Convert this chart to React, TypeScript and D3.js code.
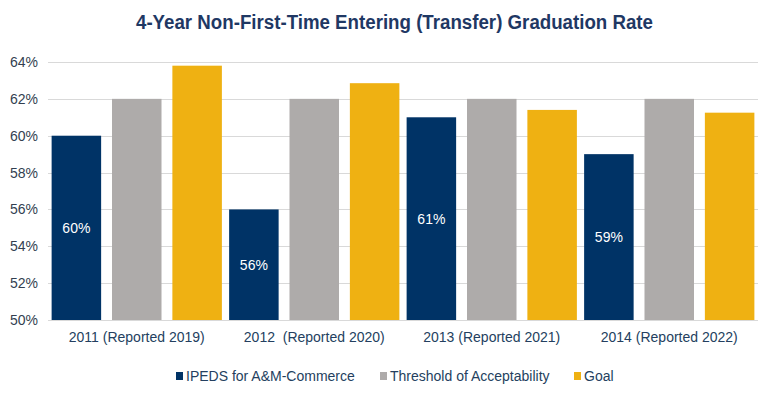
import React from "react";
import * as d3 from "d3";

const categories = ["2011 (Reported 2019)", "2012  (Reported 2020)", "2013 (Reported 2021)", "2014 (Reported 2022)"];
const seriesNames = ["IPEDS for A&M-Commerce", "Threshold of Acceptability", "Goal"];
const ipeds = [60, 56, 61, 59];
const threshold = [62, 62, 62, 62];
const goal = [63.8, 62.85, 61.4, 61.25];
const yTicks = [50, 52, 54, 56, 58, 60, 62, 64];
const colors = ["#003366", "#AEABAA", "#EFB112"];

const W = 783;
const H = 399;
const plotLeft = 48;
const plotRight = 758;
const plotTop = 62;
const plotBottom = 320;
const FONT = "'Liberation Sans', Arial, sans-serif";

export default function App() {
  const series = [ipeds, threshold, goal];
  const x0 = d3.scaleBand<string>().domain(categories).range([plotLeft, plotRight]).paddingInner(0).paddingOuter(0);
  const x1 = d3.scaleBand<number>().domain([0, 1, 2]).range([0, x0.bandwidth()]).paddingInner(0.18).paddingOuter(0.06);
  const y = d3.scaleLinear().domain([50, 64]).range([plotBottom, plotTop]);

  const legendItems = [
    { x: 176, label: seriesNames[0], color: colors[0] },
    { x: 380, label: seriesNames[1], color: colors[1] },
    { x: 574, label: seriesNames[2], color: colors[2] },
  ];

  return (
    <svg width={W} height={H} style={{ position: "absolute", left: 0, top: 0, background: "#fff" }} fontFamily={FONT}>
      <rect x={0} y={0} width={W} height={H} fill="#fff" />
      <text
        x={394.5}
        y={29}
        textAnchor="middle"
        fontSize={20}
        fontWeight="bold"
        fill="#1F3864"
        textLength={517}
        lengthAdjust="spacingAndGlyphs"
      >
        4-Year Non-First-Time Entering (Transfer) Graduation Rate
      </text>
      {yTicks.map((t) => (
        <g key={t}>
          <line x1={plotLeft} x2={plotRight} y1={Math.round(y(t)) + 0.5} y2={Math.round(y(t)) + 0.5} stroke="#D9D9D9" strokeWidth={1} />
          <text x={38} y={y(t) + 5} textAnchor="end" fontSize={14} fill="#333F50">
            {t}%
          </text>
        </g>
      ))}
      {categories.map((c, ci) => (
        <g key={c}>
          {series.map((s, si) => (
            <rect
              key={si}
              x={(x0(c) as number) + (x1(si) as number)}
              y={y(s[ci])}
              width={x1.bandwidth()}
              height={plotBottom - y(s[ci])}
              fill={colors[si]}
            />
          ))}
          <text
            x={(x0(c) as number) + (x1(0) as number) + x1.bandwidth() / 2}
            y={(y(ipeds[ci]) + plotBottom) / 2 + 5}
            textAnchor="middle"
            fontSize={14}
            fill="#fff"
          >
            {ipeds[ci]}%
          </text>
          <text
            x={(x0(c) as number) + x0.bandwidth() / 2}
            y={342}
            textAnchor="middle"
            fontSize={14}
            fill="#243F60"
            style={{ whiteSpace: "pre" }}
          >
            {c}
          </text>
        </g>
      ))}
      {legendItems.map((l) => (
        <g key={l.label}>
          <rect x={l.x} y={372} width={7} height={8} fill={l.color} />
          <text x={l.x + 10} y={381} fontSize={14} fill="#243F60">
            {l.label}
          </text>
        </g>
      ))}
    </svg>
  );
}
